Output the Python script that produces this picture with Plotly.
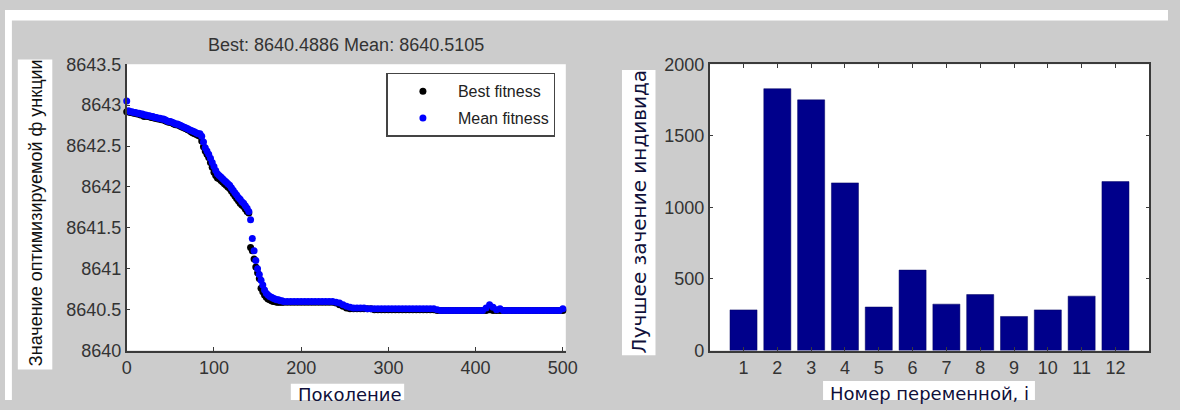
import plotly.graph_objects as go

# ---------------- data ----------------
generation = list(range(0, 182, 2)) + list(range(184, 501, 4))

mean_fitness = [
    8643.05, 8642.93, 8642.92, 8642.92, 8642.91, 8642.91, 8642.90, 8642.90, 8642.89, 8642.89,
    8642.88, 8642.88, 8642.87, 8642.87, 8642.86, 8642.86, 8642.85, 8642.85, 8642.84, 8642.84,
    8642.83, 8642.83, 8642.82, 8642.81, 8642.80, 8642.80, 8642.79, 8642.78, 8642.77, 8642.77,
    8642.76, 8642.75, 8642.74, 8642.73, 8642.72, 8642.71, 8642.70, 8642.69, 8642.68, 8642.67,
    8642.66, 8642.65, 8642.65, 8642.62, 8642.55, 8642.48, 8642.44, 8642.40, 8642.35, 8642.30,
    8642.25, 8642.20, 8642.16, 8642.14, 8642.12, 8642.10, 8642.08, 8642.06, 8642.04, 8642.02,
    8641.99, 8641.96, 8641.93, 8641.90, 8641.87, 8641.85, 8641.82, 8641.80, 8641.77, 8641.74,
    8641.70, 8641.60, 8641.37, 8641.22, 8641.10, 8641.00, 8640.93, 8640.86, 8640.80, 8640.74,
    8640.70, 8640.68, 8640.66, 8640.65, 8640.64, 8640.63, 8640.62, 8640.62, 8640.61, 8640.61,
    8640.60,
    # generations 184 .. 500 (step 4)
    8640.60, 8640.60, 8640.60, 8640.60, 8640.60, 8640.60, 8640.60, 8640.60, 8640.60, 8640.60,
    8640.60, 8640.60, 8640.60, 8640.60, 8640.59, 8640.58, 8640.56, 8640.54, 8640.53, 8640.52,
    8640.52, 8640.52, 8640.52, 8640.51, 8640.51, 8640.51, 8640.51, 8640.51, 8640.51, 8640.51,
    8640.51, 8640.51, 8640.51, 8640.51, 8640.51, 8640.51, 8640.51, 8640.51, 8640.51, 8640.51,
    8640.51, 8640.51, 8640.51, 8640.50, 8640.49, 8640.49, 8640.49, 8640.49, 8640.49, 8640.49,
    8640.49, 8640.49, 8640.49, 8640.49, 8640.49, 8640.49, 8640.49, 8640.52, 8640.56, 8640.53,
    8640.50, 8640.51, 8640.49, 8640.49, 8640.49, 8640.49, 8640.49, 8640.49, 8640.49, 8640.49,
    8640.49, 8640.49, 8640.49, 8640.49, 8640.49, 8640.49, 8640.49, 8640.49, 8640.49, 8640.51,
]

best_fitness = [
    8642.92, 8642.92, 8642.91, 8642.91, 8642.90, 8642.90, 8642.89, 8642.89, 8642.88, 8642.88,
    8642.86, 8642.87, 8642.86, 8642.86, 8642.85, 8642.85, 8642.84, 8642.84, 8642.83, 8642.83,
    8642.82, 8642.82, 8642.81, 8642.80, 8642.79, 8642.79, 8642.78, 8642.77, 8642.76, 8642.76,
    8642.75, 8642.74, 8642.73, 8642.72, 8642.71, 8642.70, 8642.69, 8642.67, 8642.66, 8642.65,
    8642.64, 8642.63, 8642.62, 8642.56, 8642.49, 8642.44, 8642.40, 8642.36, 8642.30, 8642.24,
    8642.18, 8642.14, 8642.11, 8642.10, 8642.08, 8642.06, 8642.04, 8642.02, 8642.00, 8641.98,
    8641.95, 8641.92, 8641.89, 8641.86, 8641.83, 8641.80, 8641.78, 8641.76, 8641.73, 8641.70,
    8641.68, 8641.26, 8641.22, 8641.12, 8641.02, 8640.95, 8640.88, 8640.76, 8640.72, 8640.68,
    8640.65, 8640.63, 8640.62, 8640.61, 8640.60, 8640.60, 8640.59, 8640.59, 8640.59, 8640.59,
    8640.59,
    # generations 184 .. 500 (step 4)
    8640.59, 8640.59, 8640.59, 8640.59, 8640.59, 8640.59, 8640.59, 8640.59, 8640.59, 8640.59,
    8640.59, 8640.59, 8640.59, 8640.59, 8640.58, 8640.56, 8640.54, 8640.52, 8640.51, 8640.51,
    8640.51, 8640.51, 8640.51, 8640.51, 8640.51, 8640.50, 8640.50, 8640.50, 8640.50, 8640.50,
    8640.50, 8640.50, 8640.50, 8640.50, 8640.50, 8640.50, 8640.50, 8640.50, 8640.50, 8640.50,
    8640.50, 8640.50, 8640.50, 8640.49, 8640.49, 8640.49, 8640.49, 8640.49, 8640.49, 8640.49,
    8640.49, 8640.49, 8640.49, 8640.49, 8640.49, 8640.49, 8640.49, 8640.49, 8640.50, 8640.49,
    8640.49, 8640.49, 8640.49, 8640.49, 8640.49, 8640.49, 8640.49, 8640.49, 8640.49, 8640.49,
    8640.49, 8640.49, 8640.49, 8640.49, 8640.49, 8640.49, 8640.49, 8640.49, 8640.49, 8640.49,
]

variable_index = [1, 2, 3, 4, 5, 6, 7, 8, 9, 10, 11, 12]
best_individual = [284, 1829, 1751, 1171, 304, 562, 324, 391, 238, 284, 380, 1180]

fitness_ticks = [8640, 8640.5, 8641, 8641.5, 8642, 8642.5, 8643, 8643.5]
generation_ticks = [0, 100, 200, 300, 400, 500]
value_ticks = [0, 500, 1000, 1500, 2000]

left_title = "Best: 8640.4886 Mean: 8640.5105"
left_ylabel = "Значение оптимизируемой ф ункции"
left_xlabel = "Поколение"
right_ylabel = "Лучшее зачение индивида"
right_xlabel = "Номер переменной, i"

# ---------------- layout helpers ----------------
W, H = 1180, 410
def px(x):
    return x / W
def py(y):
    return 1 - y / H

GRAY = "#cccccc"
AXC = "#3a3a3a"
TICKFONT = dict(family="Liberation Sans, Arial, sans-serif", size=18, color="#333333")

fig = go.Figure()
fig.add_trace(go.Scatter(
    x=generation, y=best_fitness, mode="markers", name="Best fitness",
    marker=dict(color="#000000", size=7), xaxis="x", yaxis="y",
    legendgroup="best", cliponaxis=False))
fig.add_trace(go.Scatter(
    x=generation, y=mean_fitness, mode="markers", name="Mean fitness",
    marker=dict(color="#0000ff", size=7), xaxis="x", yaxis="y",
    legendgroup="mean", cliponaxis=False))
fig.add_trace(go.Bar(
    x=variable_index, y=best_individual, width=0.8, showlegend=False,
    marker=dict(color="#00008b", line=dict(color="#000060", width=0.5)),
    xaxis="x2", yaxis="y2"))

axis_common = dict(showgrid=False, zeroline=False, showline=True, linecolor=AXC,
                   linewidth=1.5, ticks="inside", ticklen=4, tickcolor=AXC,
                   tickwidth=1, tickfont=TICKFONT)

fig.update_layout(
    width=W, height=H, autosize=False,
    margin=dict(l=0, r=0, t=0, b=0),
    paper_bgcolor=GRAY, plot_bgcolor="#ffffff",
    showlegend=True,
    xaxis=dict(domain=[px(123.5), px(569)], range=[0, 503.4], anchor="y",
               tickvals=generation_ticks, ticktext=[f"{v:g}" for v in generation_ticks],
               **axis_common),
    yaxis=dict(domain=[py(358), py(57)], range=[8640, 8643.5], anchor="x",
               tickvals=fitness_ticks, ticktext=[f"{v:g}" for v in fitness_ticks],
               **axis_common),
    xaxis2=dict(domain=[px(715), px(1161)], range=[0, 13], anchor="y2",
                tickvals=variable_index, ticktext=[str(v) for v in variable_index],
                mirror="allticks", **axis_common),
    yaxis2=dict(domain=[py(358), py(57)], range=[0, 2000], anchor="x2",
                tickvals=value_ticks, ticktext=[str(v) for v in value_ticks],
                mirror="allticks", **axis_common),
    legend=dict(x=px(387), y=py(66), xanchor="left", yanchor="top",
                bgcolor="#ffffff", bordercolor="#444444", borderwidth=1.5,
                font=dict(family="Liberation Sans, Arial, sans-serif", size=16, color="#222222"),
                tracegroupgap=3, itemwidth=60),
)

shapes = [
    # white page strips around the grey figure
    dict(type="rect", xref="paper", yref="paper", x0=0, x1=1, y0=py(11), y1=1,
         fillcolor="#ffffff", line=dict(width=0), layer="below"),
    dict(type="rect", xref="paper", yref="paper", x0=0, x1=px(7), y0=0, y1=1,
         fillcolor="#ffffff", line=dict(width=0), layer="below"),
    # white label boxes
    dict(type="rect", xref="paper", yref="paper", x0=px(13), x1=px(48), y0=py(378), y1=py(52),
         fillcolor="#ffffff", line=dict(width=0), layer="below"),
    dict(type="rect", xref="paper", yref="paper", x0=px(626), x1=px(660), y0=py(363), y1=py(63),
         fillcolor="#ffffff", line=dict(width=0), layer="below"),
    dict(type="rect", xref="paper", yref="paper", x0=px(290), x1=px(405), y0=0, y1=py(393),
         fillcolor="#ffffff", line=dict(width=0), layer="below"),
    dict(type="rect", xref="paper", yref="paper", x0=px(830), x1=px(1045), y0=0, y1=py(390),
         fillcolor="#ffffff", line=dict(width=0), layer="below"),
]
fig.update_layout(shapes=shapes)

annotations = [
    dict(text=left_title, x=px(346), y=py(37), xref="paper", yref="paper",
         showarrow=False, xanchor="center", yanchor="middle",
         font=dict(family="Liberation Sans, Arial, sans-serif", size=18, color="#333333")),
    dict(text=left_ylabel, x=px(31), y=py(213), xref="paper", yref="paper",
         showarrow=False, xanchor="center", yanchor="middle", textangle=-90,
         font=dict(family="Liberation Sans, Arial, sans-serif", size=18, color="#111111")),
    dict(text=right_ylabel, x=px(643), y=py(212), xref="paper", yref="paper",
         showarrow=False, xanchor="center", yanchor="middle", textangle=-90,
         font=dict(family="DejaVu Sans, sans-serif", size=20, color="#10103a")),
    dict(text=left_xlabel, x=px(350), y=py(404), xref="paper", yref="paper",
         showarrow=False, xanchor="center", yanchor="middle",
         font=dict(family="DejaVu Sans, sans-serif", size=18, color="#10103a")),
    dict(text=right_xlabel, x=px(938), y=py(403), xref="paper", yref="paper",
         showarrow=False, xanchor="center", yanchor="middle",
         font=dict(family="DejaVu Sans, sans-serif", size=18, color="#10103a")),
]
fig.update_layout(annotations=annotations)

fig.write_html("out.html", config={"displayModeBar": False},
               post_script="document.body.style.margin='0';document.body.style.overflow='hidden';")
